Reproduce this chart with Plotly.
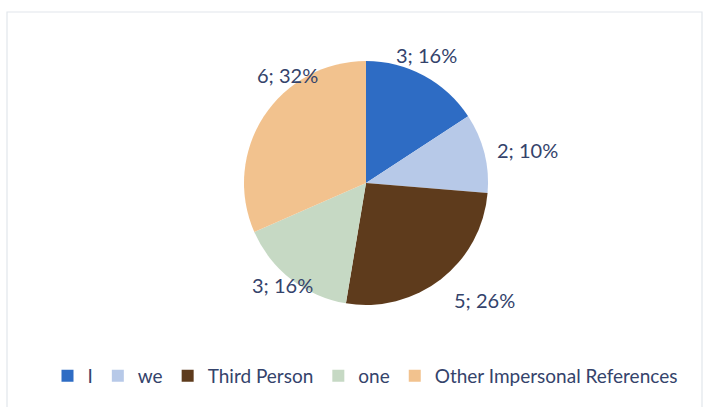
import plotly.graph_objects as go

categories = ["I", "we", "Third Person", "one", "Other Impersonal References"]
counts = [3, 2, 5, 3, 6]
percent_labels = [16, 10, 26, 16, 32]
colors = ["#2E6CC4", "#B7C9E8", "#5E3B1C", "#C6D9C4", "#F2C28E"]

W, H = 712, 407
TEXT = "#34436B"
FONT = "Lato, 'Open Sans', sans-serif"

fig = go.Figure()
fig.add_trace(go.Pie(
    labels=categories,
    values=counts,
    sort=False,
    direction="clockwise",
    rotation=0,
    textinfo="none",
    hoverinfo="label+value+percent",
    marker=dict(colors=colors, line=dict(width=0)),
    domain=dict(x=[(366 - 122) / W, (366 + 122) / W], y=[1 - 305 / H, 1 - 61 / H]),
))

# data label positions (Excel "best fit" placement), in pixels
label_pos = [(426, 55), (527, 150), (484, 300), (282, 285), (287, 75)]
for (px, py), c, p in zip(label_pos, counts, percent_labels):
    fig.add_annotation(
        x=px / W, y=1 - py / H, xref="paper", yref="paper",
        text=f"{c}; {p}%", showarrow=False,
        font=dict(family=FONT, size=20, color=TEXT),
        xanchor="center", yanchor="middle",
    )

# chart-area border
fig.add_shape(type="rect", xref="paper", yref="paper",
              x0=7 / W, x1=702 / W, y0=-0.05, y1=1 - 12 / H,
              line=dict(color="#E2E6EC", width=1.2), layer="below")

fig.update_layout(
    width=W, height=H,
    margin=dict(l=0, r=0, t=0, b=0),
    paper_bgcolor="white", plot_bgcolor="white",
    showlegend=True,
    legend=dict(orientation="h", x=365 / W, xanchor="center",
                y=1 - 376 / H, yanchor="middle",
                font=dict(family=FONT, size=19, color=TEXT),
                itemwidth=30, tracegroupgap=0,
                itemsizing="constant", traceorder="normal"),
)

fig.write_html("out.html", config={"displayModeBar": False},
               post_script="document.body.style.margin='0';")
